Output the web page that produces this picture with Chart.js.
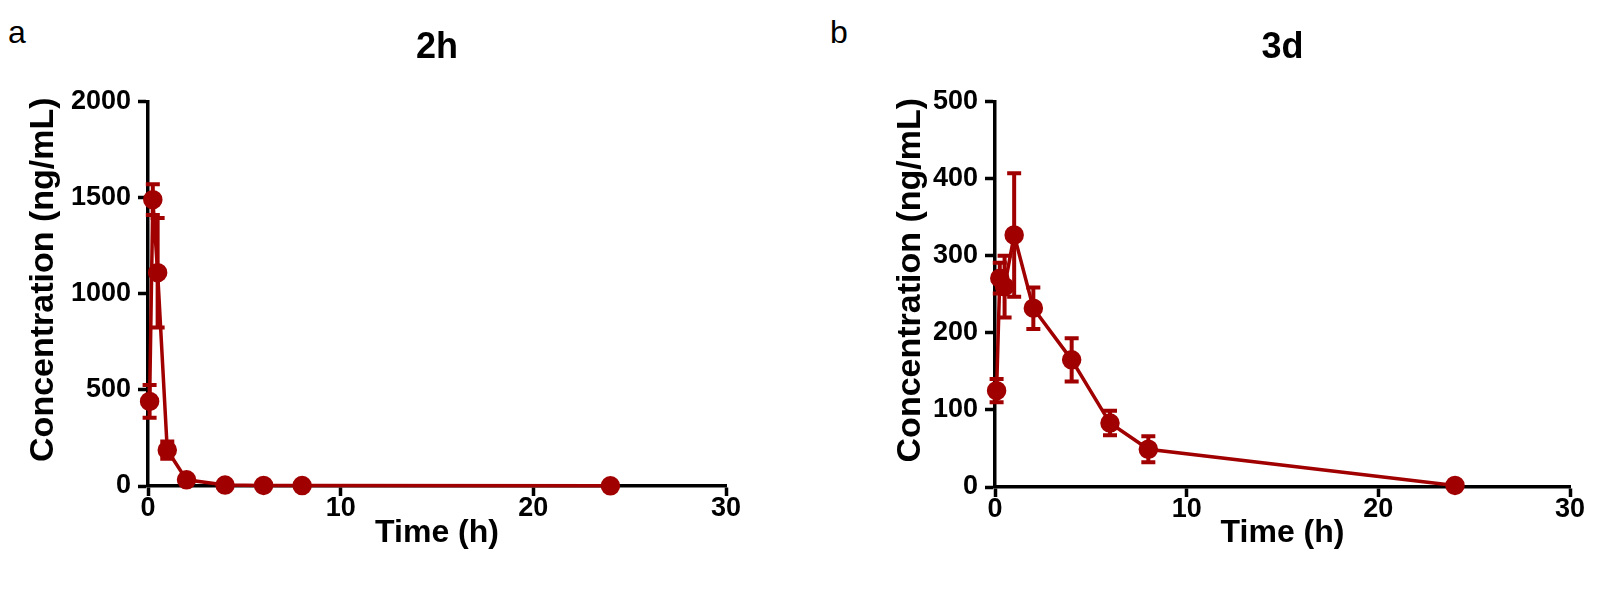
<html>
<head>
<title>Concentration</title>
<style>
  body { margin: 0; background: #fff; }
  #wrap { position: relative; width: 1597px; height: 591px; }
  canvas { position: absolute; top: 0; }
  .tag { position: absolute; top: 16px; font: 32px "Liberation Sans", Arial, sans-serif; line-height: 32px; color: #000; }
</style>
</head>
<body>
<div id="wrap">
  <div class="tag" style="left:8px">a</div>
  <div class="tag" style="left:830px">b</div>
  <canvas id="chart-2h" width="800" height="591" style="left:0px"></canvas>
  <canvas id="chart-3d" width="797" height="591" style="left:800px"></canvas>
</div>
<script src="https://cdn.jsdelivr.net/npm/chart.js"></script>
<script>
// sampling times (h)
const times = [0.083, 0.25, 0.5, 1, 2, 4, 6, 8, 24];

// 2h group, mean and SD (ng/mL)
const conc2h = [440, 1490, 1110, 187, 32, 5, 3, 2, 1];
const sd2h = [85, 80, 285, 45, 8, 0, 0, 0, 0];

// 3d group
const conc3d = [125, 271, 260, 327, 232, 165, 83, 49, 2];
const sd3d = [15, 20, 40, 80, 27, 28, 16, 17, 0];

const xTicks = [0, 10, 20, 30];
const yTicks2h = [0, 500, 1000, 1500, 2000];
const yTicks3d = [0, 100, 200, 300, 400, 500];

const red = '#a00000';
const fontName = '"Liberation Sans", Arial, sans-serif';

// draws the SD bars with the chart's own scales
const errorBars = {
    id: 'errorBars',
    beforeDatasetsDraw(chart) {
        const ctx = chart.ctx;
        const xs = chart.scales.x, ys = chart.scales.y;
        chart.data.datasets.forEach(ds => {
            if (!ds.sd) return;
            ctx.save();
            ctx.strokeStyle = ds.borderColor;
            ctx.lineWidth = 4;
            ds.data.forEach((p, i) => {
                const e = ds.sd[i];
                if (!e) return;
                const x = xs.getPixelForValue(p.x);
                const yt = ys.getPixelForValue(p.y + e);
                const yb = ys.getPixelForValue(p.y - e);
                ctx.beginPath();
                ctx.moveTo(x, yt); ctx.lineTo(x, yb);
                ctx.moveTo(x - 7, yt); ctx.lineTo(x + 7, yt);
                ctx.moveTo(x - 7, yb); ctx.lineTo(x + 7, yb);
                ctx.stroke();
            });
            ctx.restore();
        });
    }
};

function make_chart(id, title, conc, sd, yTicks, opt){
    const pts = times.map((t, i) => ({x: t, y: conc[i]}));
    const yMax = yTicks[yTicks.length - 1];
    const tickFont = {family: fontName, size: 27, weight: 'bold'};
    const axisGrid = {drawOnChartArea: false, tickLength: 10, tickWidth: 3.5, tickColor: '#000'};

    return new Chart(document.getElementById(id), {
        type: 'line',
        data: {
            datasets: [{
                data: pts,
                sd: sd,
                borderColor: red,
                backgroundColor: red,
                borderWidth: 3.5,
                pointRadius: 8,
                pointHoverRadius: 8,
                tension: 0,
                clip: false
            }]
        },
        plugins: [errorBars],
        options: {
            responsive: false,
            animation: false,
            events: [],
            layout: {padding: {left: 0, top: 0, bottom: 0, right: opt.padRight}},
            plugins: {
                legend: {display: false},
                tooltip: {enabled: false},
                title: {
                    display: true,
                    text: title,
                    fullSize: false,
                    color: '#000',
                    font: {family: fontName, size: 36, weight: 'bold'},
                    padding: {top: 26, bottom: 32.5}
                }
            },
            scales: {
                x: {
                    type: 'linear',
                    min: 0, max: 30,
                    afterFit: s => { s.height = opt.xHeight; },
                    afterBuildTicks: s => { s.ticks = xTicks.map(v => ({value: v})); },
                    border: {color: '#000', width: 3.5},
                    grid: axisGrid,
                    ticks: {color: '#000', font: tickFont, padding: -4, maxRotation: 0},
                    title: {display: true, text: 'Time (h)', color: '#000',
                            font: {family: fontName, size: 32, weight: 'bold'},
                            padding: {top: 0, bottom: 39}}
                },
                y: {
                    min: 0, max: yMax,
                    afterFit: s => { s.width = opt.yWidth; },
                    afterBuildTicks: s => { s.ticks = yTicks.map(v => ({value: v})); },
                    border: {color: '#000', width: 3.5},
                    grid: axisGrid,
                    ticks: {color: '#000', font: tickFont, padding: 7, callback: v => String(v)},
                    // leading spaces nudge the centred title up, as in the original figure
                    title: {display: true, text: '   Concentration (ng/mL)', color: '#000',
                            font: {family: fontName, size: 34, weight: 'bold'},
                            padding: {top: opt.yTitlePad, bottom: 0}}
                }
            }
        }
    });
}

make_chart('chart-2h', '2h', conc2h, sd2h, yTicks2h, {padRight: 74, xHeight: 105, yWidth: 148, yTitlePad: 23});
make_chart('chart-3d', '3d', conc3d, sd3d, yTicks3d, {padRight: 27, xHeight: 104, yWidth: 195, yTitlePad: 90});
</script>
</body>
</html>
